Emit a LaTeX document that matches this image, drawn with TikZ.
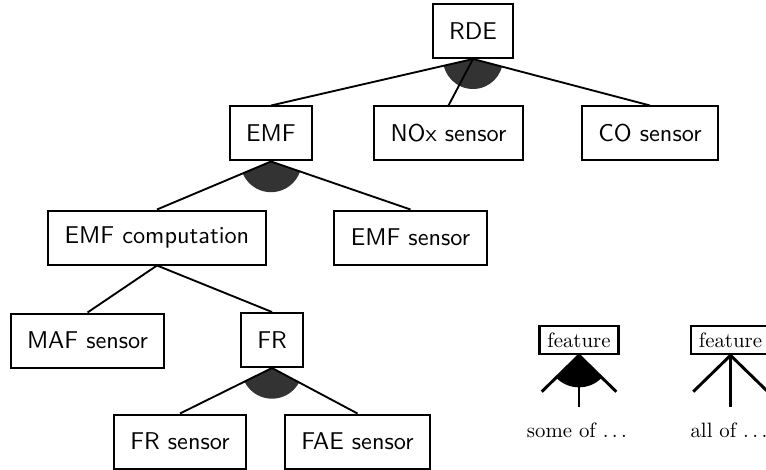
\documentclass[tikz,border=0pt]{standalone}
\usepackage{fontspec}
\newfontfamily\boxsans{lmsans10-regular.otf}
\newfontfamily\legrm{lmroman10-regular.otf}
\usetikzlibrary{calc}
\begin{document}
\begin{tikzpicture}[x=0.75pt,y=-0.75pt,
  feat/.style={draw, line width=1.5pt, font=\boxsans\fontsize{18.2}{22}\selectfont, minimum height=40.5pt, inner xsep=12.3pt, inner ysep=0pt},
  edge/.style={line width=1.4pt},
  arcfill/.style={fill=black!80},
  lfeat/.style={draw, line width=2pt, font=\legrm\fontsize{15.6}{19}\selectfont, minimum height=21pt, inner xsep=6pt, inner ysep=0pt},
  ledge/.style={line width=2.2pt},
  ltext/.style={font=\legrm\fontsize{15.6}{19}\selectfont}]
\clip (0,0) rectangle (766,470);
% feature nodes
\node[feat] (rde) at (473,31) {RDE};
\node[feat] (emf) at (271,133.5) {EMF};
\node[feat] (nox) at (448.5,133.5) {NOx sensor};
\node[feat] (co) at (650,133.5) {CO sensor};
\node[feat] (emfc) at (157,237.5) {EMF computation};
\node[feat] (emfs) at (410.5,237.5) {EMF sensor};
\node[feat] (maf) at (87.5,340.5) {MAF sensor};
\node[feat] (fr) at (272,340) {FR};
\node[feat] (frs) at (180,441.5) {FR sensor};
\node[feat] (fae) at (357.5,441.5) {FAE sensor};
% sectors
\begin{scope}
  \clip (rde.south) -- ($(rde.south)!4!(emf.north)$) -- ($(rde.south)!4!(co.north)$) -- cycle;
  \fill[arcfill] (rde.south) circle (22.5pt);
\end{scope}
\begin{scope}
  \clip (emf.south) -- ($(emf.south)!4!(emfc.north)$) -- ($(emf.south)!4!(emfs.north)$) -- cycle;
  \fill[arcfill] (emf.south) circle (23pt);
\end{scope}
\begin{scope}
  \clip (fr.south) -- ($(fr.south)!4!(frs.north)$) -- ($(fr.south)!4!(fae.north)$) -- cycle;
  \fill[arcfill] (fr.south) circle (23pt);
\end{scope}
% edges
\draw[edge] (rde.south) -- (emf.north);
\draw[edge] (rde.south) -- (nox.north);
\draw[edge] (rde.south) -- (co.north);
\draw[edge] (emf.south) -- (emfc.north);
\draw[edge] (emf.south) -- (emfs.north);
\draw[edge] (emfc.south) -- (maf.north);
\draw[edge] (emfc.south) -- (fr.north);
\draw[edge] (fr.south) -- (frs.north);
\draw[edge] (fr.south) -- (fae.north);
% legend: some of
\node[lfeat] (lfa) at (579,340) {feature};
\coordinate (la1) at (541.7,391.7);
\coordinate (la2) at (579,407);
\coordinate (la3) at (616.3,391.7);
\begin{scope}
  \clip (lfa.south) -- ($(lfa.south)!3!(la1)$) -- ($(lfa.south)!3!(la3)$) -- cycle;
  \fill[black] (lfa.south) circle (24pt);
\end{scope}
\draw[ledge] (la1) -- (lfa.south) -- (la3);
\draw[ledge] (lfa.south) -- (la2);
\node[ltext] (lta) at (577,430) {some of .\kern.1667em.\kern.1667em.};
% legend: all of
\node[lfeat] (lfb) at (730.5,340) {feature};
\coordinate (lb1) at (693.2,391.7);
\coordinate (lb2) at (730.5,407);
\coordinate (lb3) at (767.8,391.7);
\draw[ledge] (lb1) -- (lfb.south) -- (lb3);
\draw[ledge] (lfb.south) -- (lb2);
\node[ltext] (ltb) at (729,430) {all of .\kern.1667em.\kern.1667em.};
\end{tikzpicture}
\end{document}
